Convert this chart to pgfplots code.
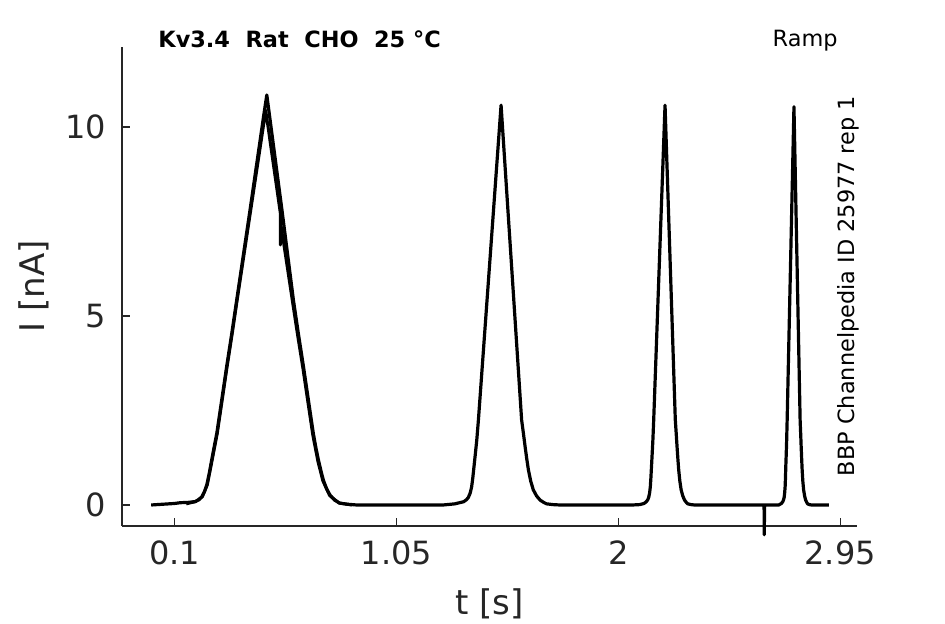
\documentclass[border=0pt]{standalone}
\usepackage{pgfplots}
\pgfplotsset{compat=1.18}
\usepackage{fontspec}
\setmainfont{DejaVu Sans}
\definecolor{axgray}{HTML}{262626}
\begin{document}
\begin{tikzpicture}
\path[use as bounding box] (0pt,0pt) rectangle (472.5pt,312pt);
\begin{axis}[
  at={(61pt,49pt)}, anchor=south west,
  scale only axis, width=367.5pt, height=239.5pt,
  xmin=-0.125, xmax=3.022, ymin=-0.556, ymax=12.12,
  axis x line=bottom, axis y line=left,
  axis line style={-, axgray, line width=0.7pt},
  tick style={axgray, line width=0.7pt},
  major tick length=3.8pt,
  tick align=inside,
  xtick={0.1,1.05,2,2.95}, xticklabels={0.1,1.05,2,2.95},
  ytick={0,5,10}, yticklabels={0,5,10},
  ticklabel style={font=\fontsize{16}{18}\selectfont, text=axgray},
  xticklabel style={yshift=-4pt},
  yticklabel style={xshift=-4.5pt},
  xlabel={t [s]}, ylabel={I [nA]},
  label style={font=\fontsize{17}{20}\selectfont, text=axgray},
  xlabel style={at={(axis description cs:0.5,-0.1628)}, anchor=center},
  ylabel style={at={(axis description cs:-0.1197,0.5)}, anchor=center},
  clip=false,
]
% second sweep (first ramp only)
\addplot[black, line width=1.5pt, line join=round] coordinates {
(0.15,0.03) (0.190,0.09) (0.219,0.22) (0.240,0.53) (0.261,1.19) (0.283,1.90) (0.304,2.78) (0.325,3.66) (0.347,4.54) (0.368,5.42) (0.481,10.05) (0.490,10.45)
(0.553,7.72) (0.5535,6.88) (0.5545,7.45) (0.607,5.3) (0.628,4.45) (0.650,3.6) (0.671,2.72) (0.692,1.85) (0.714,1.15) (0.735,0.64) (0.764,0.25) (0.805,0.05) (0.86,0.0)
};
% main sweep
\addplot[black, line width=1.6pt, line join=round] coordinates {
(0.0,0.0) (0.10,0.04) (0.124,0.06) (0.160,0.07) (0.188,0.09) (0.205,0.14) (0.217,0.22) (0.228,0.35) (0.238,0.53) (0.249,0.85) (0.259,1.19) (0.270,1.55) (0.281,1.90) (0.302,2.78)
(0.323,3.66) (0.345,4.54) (0.366,5.42) (0.423,7.80) (0.483,10.36) (0.495,10.85)
(0.560,7.80) (0.609,5.42) (0.630,4.54) (0.652,3.66) (0.673,2.78) (0.694,1.90) (0.705,1.52) (0.716,1.19) (0.727,0.90) (0.737,0.66) (0.751,0.43) (0.766,0.26) (0.785,0.13) (0.807,0.05) (0.840,0.02) (0.880,0.0)
(1.250,0.0) (1.300,0.03) (1.338,0.087) (1.350,0.14) (1.358,0.20) (1.366,0.32) (1.372,0.48) (1.377,0.72) (1.382,1.01) (1.388,1.36) (1.394,1.72) (1.401,2.25) (1.498,10.58)
(1.586,2.25) (1.594,1.88) (1.601,1.54) (1.608,1.22) (1.615,0.93) (1.625,0.63) (1.636,0.40) (1.650,0.24) (1.665,0.13) (1.680,0.07) (1.693,0.03) (1.720,0.01) (1.750,0.0)
(2.060,0.0) (2.091,0.01) (2.110,0.04) (2.120,0.087) (2.126,0.14) (2.130,0.20) (2.134,0.32) (2.137,0.48) (2.1395,0.72) (2.142,1.01) (2.145,1.36) (2.148,1.72) (2.1515,2.25) (2.200,10.58)
(2.244,2.25) (2.248,1.88) (2.2515,1.54) (2.255,1.22) (2.2585,0.93) (2.2635,0.63) (2.269,0.40) (2.276,0.24) (2.2835,0.13) (2.291,0.07) (2.2975,0.03) (2.311,0.01) (2.326,0.0)
(2.624,0.0) (2.625,-0.79) (2.626,0.0)
(2.687,0.0) (2.698,0.04) (2.704,0.087) (2.7075,0.14) (2.710,0.20) (2.7122,0.32) (2.7142,0.48) (2.7157,0.72) (2.717,1.01) (2.719,1.36) (2.7208,1.72) (2.7229,2.25) (2.752,10.54)
(2.7784,2.25) (2.7808,1.88) (2.7829,1.54) (2.785,1.22) (2.7871,0.93) (2.790,0.63) (2.7934,0.40) (2.7976,0.24) (2.8021,0.13) (2.8066,0.07) (2.8105,0.03) (2.818,0.01) (2.8276,0.0) (2.902,0.0)
};
\node[anchor=base west, inner sep=0pt, font=\bfseries\fontsize{11.2}{13}\selectfont] at (rel axis cs:0.049,0.998) {Kv3.4~~Rat~~CHO~~25~°C};
\node[anchor=base east, inner sep=0pt, font=\fontsize{11.2}{13}\selectfont] at (rel axis cs:0.974,1.002) {Ramp};
\node[rotate=90, anchor=center, font=\fontsize{11.2}{13}\selectfont] at (rel axis cs:0.988,0.501) {BBP Channelpedia ID 25977 rep 1};
\end{axis}
\end{tikzpicture}
\end{document}
